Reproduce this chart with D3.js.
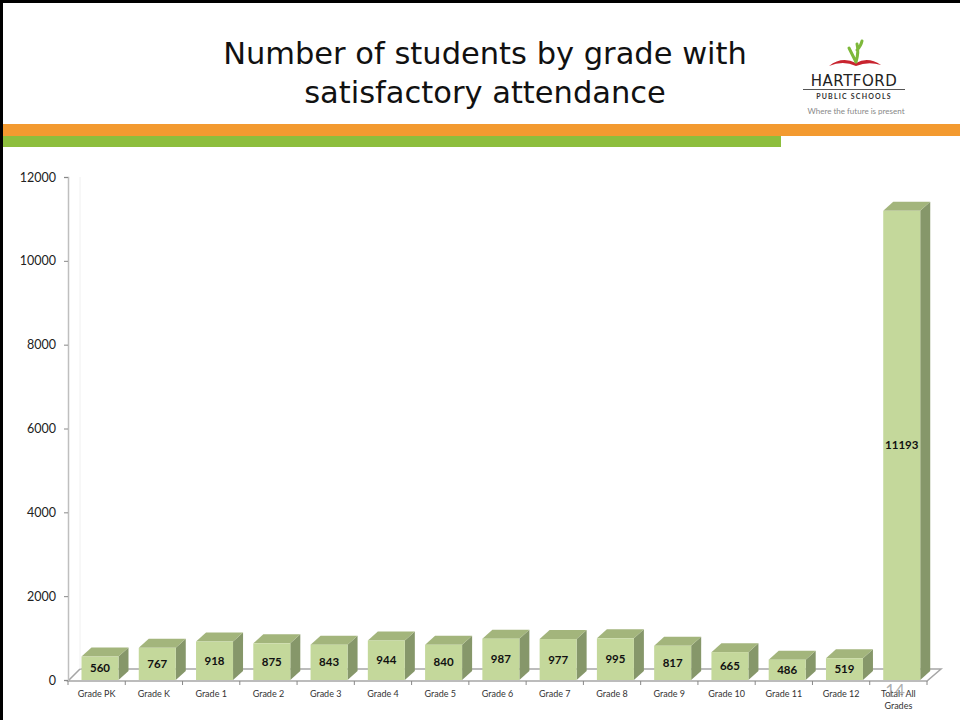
<!DOCTYPE html>
<html>
<head>
<meta charset="utf-8">
<script src="https://cdn.jsdelivr.net/npm/d3@7"></script>
<style>
  body { margin: 0; background: #fff; }
  svg { display: block; font-family: Lato, "Open Sans", sans-serif; }
</style>
</head>
<body>
<svg id="chart" width="960" height="720"></svg>
<script>
// data
const grades = ['Grade PK', 'Grade K', 'Grade 1', 'Grade 2', 'Grade 3', 'Grade 4', 'Grade 5',
  'Grade 6', 'Grade 7', 'Grade 8', 'Grade 9', 'Grade 10', 'Grade 11', 'Grade 12', 'Total- All Grades'];
const students = [560, 767, 918, 875, 843, 944, 840, 987, 977, 995, 817, 665, 486, 519, 11193];
const yTicks = [0, 2000, 4000, 6000, 8000, 10000, 12000];

const DX = 10, DY = -9;   // 3d depth of bars
const BAR_W = 37;

const svg = d3.select('#chart');

// slide frame
svg.append('rect').attr('x', 0).attr('y', 0).attr('width', 960).attr('height', 720).attr('fill', '#fff');
svg.append('line').attr('x1', 1.5).attr('y1', 0).attr('x2', 1.5).attr('y2', 720)
  .attr('stroke', '#000').attr('stroke-width', 3);
svg.append('line').attr('x1', 0).attr('y1', 1.5).attr('x2', 960).attr('y2', 1.5)
  .attr('stroke', '#000').attr('stroke-width', 3);

// title
const titleLines = ['Number of students by grade with', 'satisfactory attendance'];
svg.append('g').selectAll('text')
  .data(titleLines)
  .join('text')
  .attr('x', 485)
  .attr('y', (d, i) => 64 + i * 39)
  .attr('text-anchor', 'middle')
  .style('font-size', '30.5px')
  .style('font-family', '"DejaVu Sans", sans-serif')
  .attr('fill', '#111')
  .text(d => d);

// colour bands
svg.append('rect').attr('x', 3).attr('y', 124).attr('width', 957).attr('height', 12).attr('fill', '#F39A30');
svg.append('rect').attr('x', 3).attr('y', 136).attr('width', 778).attr('height', 11).attr('fill', '#8DBE3D');

// logo
let logo = svg.append('g');
logo.append('path')
  .attr('d', 'M829,66 Q842,56 856,63 Q868,56 881,65 Q868,61 856,66 Q843,60 829,66 Z')
  .attr('fill', '#C8242F');
logo.append('path')
  .attr('d', 'M856,62 Q852,54 849,48 M856,62 Q859,52 857,44 M857,50 Q861,46 862,41')
  .attr('fill', 'none').attr('stroke', '#7DB83A').attr('stroke-width', 3).attr('stroke-linecap', 'round');
logo.append('text')
  .attr('x', 854).attr('y', 86).attr('text-anchor', 'middle')
  .style('font-size', '15px').style('font-family', '"DejaVu Sans", sans-serif')
  .style('letter-spacing', '0.5px')
  .attr('fill', '#222')
  .text('HARTFORD');
logo.append('line').attr('x1', 803).attr('y1', 89.5).attr('x2', 905).attr('y2', 89.5)
  .attr('stroke', '#555').attr('stroke-width', 1);
logo.append('text')
  .attr('x', 854).attr('y', 98.5).attr('text-anchor', 'middle')
  .style('font-size', '7px').style('font-weight', 'bold').style('letter-spacing', '1.2px')
  .attr('fill', '#333')
  .text('PUBLIC SCHOOLS');
logo.append('text')
  .attr('x', 856).attr('y', 114).attr('text-anchor', 'middle')
  .style('font-size', '8px')
  .attr('fill', '#888')
  .text('Where the future is present');

// scales
const x = d3.scaleBand().domain(grades).range([68, 927]);
const y = d3.scaleLinear().domain([0, 12000]).range([680, 177]);

// floor
const x0 = x.range()[0], x1 = x.range()[1];
svg.append('path')
  .attr('d', `M${x0},${y(0) + 1}L${x1},${y(0) + 1}L${x1 + 14},${y(0) - 11}L${x0 + 12},${y(0) - 11}Z`)
  .attr('fill', '#fff').attr('stroke', '#A6A6A6').attr('stroke-width', 1.5);

// back wall edge
svg.append('line')
  .attr('x1', x0 + 12).attr('y1', y(12000)).attr('x2', x0 + 12).attr('y2', y(0) - 11)
  .attr('stroke', '#F0F0F0');

// y axis
let yAxis = svg.append('g')
  .attr('transform', 'translate(' + x0 + ',0)')
  .call(d3.axisLeft(y).tickValues(yTicks).tickSize(4).tickPadding(8).tickFormat(d3.format('d')));
yAxis.select('.domain').attr('stroke', '#BFBFBF').attr('stroke-width', 1.5);
yAxis.selectAll('.tick line').attr('stroke', '#888');
yAxis.selectAll('.tick text')
  .style('font-size', '12.5px').style('font-family', 'Lato, sans-serif')
  .attr('fill', '#222');

// category tick marks
svg.append('g').selectAll('line')
  .data(d3.range(grades.length + 1))
  .join('line')
  .attr('x1', i => x0 + i * x.step())
  .attr('x2', i => x0 + i * x.step())
  .attr('y1', y(0) + 1).attr('y2', y(0) + 5)
  .attr('stroke', '#888');

// bars
const bars = svg.append('g').selectAll('g')
  .data(grades.map((g, i) => ({grade: g, value: students[i]})))
  .join('g');

const left = d => x(d.grade) + 13.5;

bars.append('path')   // side
  .attr('d', d => {
    let r = left(d) + BAR_W;
    return `M${r},${y(0)}L${r + DX},${y(0) + DY}L${r + DX},${y(d.value) + DY}L${r},${y(d.value)}Z`;
  })
  .attr('fill', '#86976A');
bars.append('path')   // top
  .attr('d', d => {
    let l = left(d), t = y(d.value);
    return `M${l},${t}L${l + DX},${t + DY}L${l + BAR_W + DX},${t + DY}L${l + BAR_W},${t}Z`;
  })
  .attr('fill', '#A3B57C');
bars.append('rect')   // front
  .attr('x', d => left(d))
  .attr('y', d => y(d.value))
  .attr('width', BAR_W)
  .attr('height', d => y(0) - y(d.value))
  .attr('fill', '#C4D89B');

bars.append('text')
  .attr('x', d => left(d) + BAR_W / 2)
  .attr('y', d => (y(0) + y(d.value)) / 2 + 4)
  .attr('text-anchor', 'middle')
  .style('font-size', '11.5px').style('font-weight', 'bold')
  .attr('fill', '#111')
  .text(d => d.value);

// category labels
const catLabels = svg.append('g').selectAll('text')
  .data(grades)
  .join('text')
  .attr('x', d => x(d) + x.bandwidth() / 2)
  .attr('y', 697)
  .attr('text-anchor', 'middle')
  .style('font-size', '9px')
  .attr('fill', '#333');
catLabels.each(function(d) {
  let parts = d === 'Total- All Grades' ? ['Total- All', 'Grades'] : [d];
  d3.select(this).selectAll('tspan')
    .data(parts)
    .join('tspan')
    .attr('x', x(d) + x.bandwidth() / 2)
    .attr('dy', (p, i) => i === 0 ? 0 : 12)
    .text(p => p);
});

// slide number (sits over the last label, as on the slide)
svg.append('text')
  .attr('x', 895).attr('y', 697)
  .attr('text-anchor', 'middle')
  .style('font-size', '17px')
  .attr('fill', '#999')
  .attr('fill-opacity', 0.8)
  .text('14');
</script>
</body>
</html>
